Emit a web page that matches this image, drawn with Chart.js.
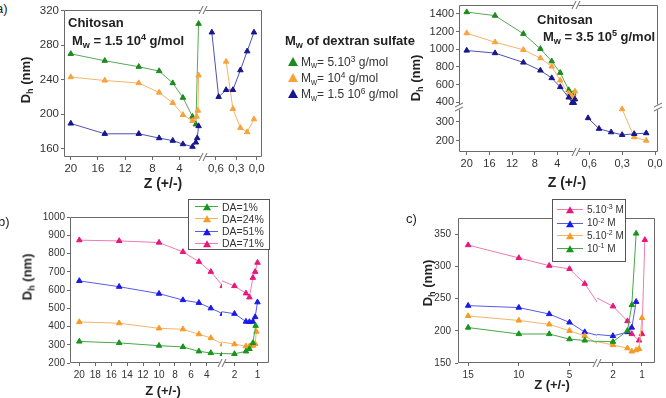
<!DOCTYPE html>
<html><head><meta charset="utf-8">
<script src="https://cdn.jsdelivr.net/npm/chart.js@4.4.1/dist/chart.umd.min.js"></script>
<style>
html,body{margin:0;padding:0;background:#fff;}
body{width:666px;height:398px;position:relative;overflow:hidden;font-family:"Liberation Sans",Arial,sans-serif;color:#222;}
canvas{position:absolute;z-index:1;}
.t{position:absolute;white-space:nowrap;z-index:3;line-height:1;}
.b{font-weight:bold;}
.v{transform:translateY(-50%);}
.c{transform:translate(-50%,-50%);}
.rot{transform:translate(-50%,-50%) rotate(-90deg);}
sub,sup{font-size:70%;line-height:0;position:relative;vertical-align:baseline;}
sub{bottom:-0.3em;} sup{top:-0.5em;}
.tri{position:absolute;width:0;height:0;border-left:4px solid transparent;border-right:4px solid transparent;border-bottom-width:7px;border-bottom-style:solid;transform:translate(-50%,-55%);z-index:4;}
.lg{position:absolute;border:1px solid #555;background:#fff;z-index:2;box-sizing:border-box;}
.ln{position:absolute;height:1px;z-index:3;}
</style></head>
<body>
<script>
// ================= DATA =================
// Panel a (left): chitosan Mw 1.5e4 — segment Z >= 1
const aLoZGreen=[20,15,10,7,5,3.5,2.1,1.6,1.2];
const aLoGreen=[270,262,255,250,236,219,197,188,305];
const aLoZOrange=[20,15,10,7,5,3.5,2.1,1.5,1.3,1.2];
const aLoOrange=[243,239,236,225,213,199,192,197,204,245];
const aLoZNavy=[20,15,10,7,5,3.5,2.1,1.6,1.4,1.2];
const aLoNavy=[189,177,177,172,169,165,162,167,172,186];
// Panel a (left): segment Z < 1
const aHiZNavy=[0.66,0.56,0.45,0.35,0.24,0.14,0.04];
const aHiNavy=[295,220,228,228,251,273,295];
const aHiZOrange=[0.45,0.35,0.24,0.14,0.04];
const aHiOrange=[261,206,184,179,194];
const aTicksX1=[20,16,12,8,4];
const aTicksX2=[0.6,0.3,0.0];
const aTicksY=[160,200,240,280,320];

// Panel a (right): chitosan Mw 3.5e5 — upper segment
const rZGreen=[20,15,10,7,5,3.5,2,1.5,1.2];
const rGreen=[1420,1380,1175,1005,865,735,540,480,500];
const rZOrange=[20,15,10,7,5,3.5,2,1.5,1.2,0.9];
const rOrange=[1182,1080,994,900,806,648,500,470,440,525];
const rZNavy=[20,15,10,7,5,3.5,2,1.4,1.1,0.9];
const rNavy=[986,957,851,761,675,574,456,395,395,435];
// lower-right segment
const rLoZNavy=[0.61,0.51,0.40,0.30,0.19,0.08];
const rLoNavy=[318,262,244,230,235,239];
const rLoZOrange=[0.30,0.19,0.08];
const rLoOrange=[365,218,200];
const rTicksYHi=[400,600,800,1000,1200,1400];
const rTicksYLo=[200,300];

// Panel b: DA series
const bZ=[20,15,10,7,5,3.5,2,1.5,1.35,1.2,1.1,1.0];
const bPink=[873,869,860,809,755,700,622,582,560,667,700,750];
const bBlue=[650,618,580,545,530,500,470,427,425,427,452,533];
const bZOrange=[20,15,10,7,5,3.5,2,1.5,1.35,1.2,1.1,1.05];
const bOrange=[425,418,390,385,358,337,303,292,292,295,305,372];
const bZGreen=[20,15,10,7,5,3.5,2,1.5,1.35,1.2,1.08];
const bGreen=[318,310,295,288,264,255,250,264,277,310,404];
const bTicksX1=[20,18,16,14,12,10,8,6,4];
const bTicksX2=[2,1];
const bTicksY=[200,300,400,500,600,700,800,900,1000];
const bNames=['DA=1%','DA=24%','DA=51%','DA=71%'];

// Panel c: ionic strength series
const cZPink=[15,10,7,5,3.5,2,1.5,1.35,1.1,1.0,0.9];
const cPink=[333,313,301,296,273,238,215,195,185,195,341];
const cZBlue=[15,10,7,5,3.5,2,1.5,1.35,1.2];
const cBlue=[239,236,226,213,198,192,198,205,245];
const cZOrange=[15,10,7,5,3.5,2,1.5,1.35,1.2,1.1,1.0];
const cOrange=[223,216,210,200,192,178,173,168,170,172,220];
const cZGreen=[15,10,7,5,3.5,2,1.5,1.35,1.2];
const cGreen=[205,195,195,187,185,183,200,240,351];
const cTicksX1=[15,10,5];
const cTicksX2=[2,1];
const cTicksY=[150,200,250,300,350];
const cNames=['5.10<sup>-3</sup> M','10<sup>-2</sup> M','5.10<sup>-2</sup> M','10<sup>-1</sup> M'];

// ================= STYLE =================
const FONT='"Liberation Sans", Arial, sans-serif';
const COL={
  aGreen:{m:'#1e8a1e',l:'#5aa85a'}, aOrange:{m:'#f7a33c',l:'#f6b466'}, aNavy:{m:'#17178c',l:'#5050b4'},
  green:{m:'#16961a',l:'#45a845'}, orange:{m:'#f79a26',l:'#f4b468'}, blue:{m:'#1a1ae6',l:'#5a5ae6'}, pink:{m:'#e8177d',l:'#f07ab0'}
};
const PAD=8, YW=40, XH=22;
const comma=v=>v.toFixed(1).replace('.',',');

const framePlugin={id:'frameBox',afterDraw(chart,args,o){
  const a=chart.chartArea, ctx=chart.ctx;
  const L=Math.round(a.left)+0.5, R=Math.round(a.right)-0.5, T=Math.round(a.top)+0.5, B=Math.round(a.bottom)-0.5;
  const s=o.sides||'', br=o.brk||'', g=2;
  ctx.save(); ctx.strokeStyle='#6a6a6a'; ctx.lineWidth=1; ctx.beginPath();
  const x0=L+(br.includes('l')?g:0), x1=R-(br.includes('r')?g:0);
  const y0=T+(br.includes('t')?g:0), y1=B-(br.includes('b')?g:0);
  if(s.includes('t')){ctx.moveTo(x0,T);ctx.lineTo(x1,T);}
  if(s.includes('b')){ctx.moveTo(x0,B);ctx.lineTo(x1,B);}
  if(s.includes('l')){ctx.moveTo(L,y0);ctx.lineTo(L,y1);}
  if(s.includes('r')){ctx.moveTo(R,y0);ctx.lineTo(R,y1);}
  ctx.stroke();
  ctx.beginPath();
  (o.marks||[]).forEach(([xs,ys,ori])=>{
    const x=xs==='l'?a.left:a.right, y=ys==='t'?a.top:a.bottom;
    for(const d of [-2,2]){
      if(ori==='v'){ctx.moveTo(x+d-2,y+4);ctx.lineTo(x+d+2,y-4);}
      else{ctx.moveTo(x-4,y+d+2);ctx.lineTo(x+4,y+d-2);}
    }
  });
  ctx.stroke(); ctx.restore();
}};

function series(zs,vals,c,clip){
  return {data:zs.map((z,i)=>({x:z,y:vals[i]})),showLine:true,borderColor:c.l,borderWidth:1,
    pointStyle:'triangle',pointRadius:3.2,pointBackgroundColor:c.m,pointBorderColor:c.m,pointBorderWidth:1,
    pointHoverRadius:3.2,clip:clip===undefined?0:clip};
}

function axis(a,isX){
  const has=!!(a.ticks&&a.ticks.length);
  return {type:'linear',min:a.min,max:a.max,reverse:isX,position:isX?'bottom':'left',
    afterFit:s=>{ if(isX) s.height=XH; else s.width=YW; s.paddingLeft=0;s.paddingRight=0;s.paddingTop=0;s.paddingBottom=0; },
    afterBuildTicks:s=>{ s.ticks=(a.ticks||[]).map(v=>({value:v})); },
    ticks:{display:has,autoSkip:false,maxRotation:0,minRotation:0,padding:a.pad||2,color:'#333',
      font:{size:a.size||11,family:FONT},callback:a.fmt||(v=>String(v))},
    grid:{display:has,drawOnChartArea:false,drawTicks:true,tickLength:a.tl||3,tickColor:'#6a6a6a'},
    border:{display:false}};
}

function seg(f){
  const [l,t,r,b]=f.frame;
  const cv=document.createElement('canvas');
  const W=r-l+YW+2*PAD, H=b-t+XH+2*PAD;
  cv.width=W; cv.height=H;
  cv.style.left=(l-YW-PAD)+'px'; cv.style.top=(t-PAD)+'px';
  cv.style.width=W+'px'; cv.style.height=H+'px';
  document.body.appendChild(cv);
  new Chart(cv,{type:'scatter',data:{datasets:f.sets||[]},
    options:{responsive:false,animation:false,devicePixelRatio:1,
      layout:{padding:PAD,autoPadding:false},
      plugins:{legend:{display:false},tooltip:{enabled:false},frameBox:f.box},
      scales:{x:axis(f.x,true),y:axis(f.y,false)}},
    plugins:[framePlugin]});
}

// ---------- Panel a, left ----------
const aYl={min:150,max:321,ticks:aTicksY,size:11.5};
seg({frame:[64,10,203,157],x:{min:0.55,max:21,ticks:aTicksX1,size:11.5},y:aYl,
  box:{sides:'tlb',brk:'r',marks:[['r','t','v'],['r','b','v']]},
  sets:[series(aLoZNavy,aLoNavy,COL.aNavy),series(aLoZOrange,aLoOrange,COL.aOrange),series(aLoZGreen,aLoGreen,COL.aGreen)]});
seg({frame:[203,10,262,157],x:{min:-0.078,max:0.79,ticks:aTicksX2,fmt:comma,size:11.5},y:{min:150,max:321},
  box:{sides:'trb',brk:'l'},
  sets:[series(aHiZNavy,aHiNavy,COL.aNavy),series(aHiZOrange,aHiOrange,COL.aOrange)]});

// ---------- Panel a, right ----------
const rXl={min:0.72,max:21.36}, rXr={min:-0.027,max:0.72};
const cl5={left:0,top:0,right:5,bottom:5};
seg({frame:[459,5,576,107],x:rXl,y:{min:348,max:1500,ticks:rTicksYHi,size:11},
  box:{sides:'tl',brk:'rb',marks:[['r','t','v'],['l','b','h']]},
  sets:[series(rZNavy,rNavy,COL.aNavy,cl5),series(rZOrange,rOrange,COL.aOrange,cl5),series(rZGreen,rGreen,COL.aGreen,cl5)]});
seg({frame:[459,107,576,152],x:Object.assign({ticks:aTicksX1,size:11},rXl),y:{min:140,max:376,ticks:rTicksYLo,size:11},
  box:{sides:'lb',brk:'rt',marks:[['r','b','v']]}});
seg({frame:[576,5,658,107],x:rXr,y:{min:348,max:1500},
  box:{sides:'tr',brk:'lb',marks:[['r','b','h']]}});
const clT={left:0,top:5,right:0,bottom:0};
seg({frame:[576,107,658,152],x:Object.assign({ticks:aTicksX2,fmt:comma,size:11},rXr),y:{min:140,max:376},
  box:{sides:'rb',brk:'lt'},
  sets:[series(rLoZNavy,rLoNavy,COL.aNavy,clT),series(rLoZOrange,rLoOrange,COL.aOrange,clT)]});

// ---------- Panel b ----------
const bSets=()=>[series(bZGreen,bGreen,COL.green),series(bZOrange,bOrange,COL.orange),series(bZ,bBlue,COL.blue),series(bZ,bPink,COL.pink)];
const bY={min:200,max:1000,ticks:bTicksY,size:10};
seg({frame:[70,217,222,363],x:{min:2.1,max:21.17,ticks:bTicksX1,size:10,pad:3},y:bY,
  box:{sides:'tlb',brk:'r',marks:[['r','b','v']]},sets:bSets()});
seg({frame:[222,217,269,363],x:{min:0.5,max:2.54,ticks:bTicksX2,size:10,pad:3},y:{min:200,max:1000},
  box:{sides:'trb',brk:'l'},sets:bSets()});

// ---------- Panel c ----------
const cSets=()=>[series(cZGreen,cGreen,COL.green),series(cZOrange,cOrange,COL.orange),series(cZBlue,cBlue,COL.blue),series(cZPink,cPink,COL.pink)];
seg({frame:[458,218,597,363],x:{min:2.29,max:16,ticks:cTicksX1,size:10,pad:3},y:{min:150,max:375,ticks:cTicksY,size:10,pad:4},
  box:{sides:'tlb',brk:'r',marks:[['r','b','v']]},sets:cSets()});
seg({frame:[597,218,655,363],x:{min:0.55,max:2.55,ticks:cTicksX2,size:10,pad:3},y:{min:150,max:375},
  box:{sides:'trb',brk:'l'},sets:cSets()});

// ================= TEXT & LEGENDS =================
function txt(html,x,y,cls,style){
  const d=document.createElement('div'); d.className='t '+(cls||''); d.innerHTML=html;
  d.style.left=x+'px'; d.style.top=y+'px'; if(style) d.style.cssText+=style;
  document.body.appendChild(d); return d;
}
const DH='D<sub>h</sub> (nm)', ZT='Z (+/-)';
txt('a)',-4,2,'','font-size:13px;');
txt('b)',-2,215,'','font-size:13px;');
txt('c)',406,212,'','font-size:13px;');
// annotations
txt('Chitosan',68,22,'b v','font-size:13px;');
txt('M<sub>w</sub> = 1.5 10<sup>4</sup> g/mol',72,40,'b v','font-size:13px;');
txt('Chitosan',537,19,'b v','font-size:13px;');
txt('M<sub>w</sub> = 3.5 10<sup>5</sup> g/mol',543,36,'b v','font-size:13px;');
// axis titles
txt(DH,25,80,'b rot','font-size:13px;');
txt(ZT,163,183,'b c','font-size:14px;');
txt(DH,415,78,'b rot','font-size:13px;');
txt(ZT,567,182,'b c','font-size:14px;');
txt(DH,27,277,'b rot','font-size:13px;');
txt(ZT,163,390,'b c','font-size:13px;');
txt(DH,427,283,'b rot','font-size:13px;');
txt(ZT,552,384,'b c','font-size:13px;');

// legend a
const aNames=['M<sub>w</sub>= 5.10<sup>3</sup> g/mol','M<sub>w</sub>= 10<sup>4</sup> g/mol','M<sub>w</sub>= 1.5 10<sup>6</sup> g/mol'];
const aCols=[COL.aGreen,COL.aOrange,COL.aNavy];
txt('M<sub>w</sub> of dextran sulfate',285,40,'b v','font-size:13px;');
[61.7,78.3,94.3].forEach((y,i)=>{
  const tr=document.createElement('div'); tr.className='tri';
  tr.style.cssText+='left:293px;top:'+y+'px;border-bottom-color:'+aCols[i].m+';border-left-width:5px;border-right-width:5px;border-bottom-width:9px;';
  document.body.appendChild(tr);
  txt(aNames[i],301,y,'v','font-size:12px;color:#333;');
});

function boxLegend(box,names,cols,ys,lx0,lx1,tx,fs){
  const d=document.createElement('div'); d.className='lg';
  d.style.cssText+='left:'+box[0]+'px;top:'+box[1]+'px;width:'+box[2]+'px;height:'+box[3]+'px;';
  document.body.appendChild(d);
  ys.forEach((y,i)=>{
    const ln=document.createElement('div'); ln.className='ln';
    ln.style.cssText+='left:'+lx0+'px;width:'+(lx1-lx0)+'px;top:'+Math.round(y)+'px;background:'+cols[i].l+';';
    document.body.appendChild(ln);
    const tr=document.createElement('div'); tr.className='tri';
    tr.style.cssText+='left:'+((lx0+lx1)/2)+'px;top:'+(Math.round(y)+0.5)+'px;border-bottom-color:'+cols[i].m+';';
    document.body.appendChild(tr);
    txt(names[i],tx,y+0.5,'v','font-size:'+fs+'px;color:#333;');
  });
}
boxLegend([188,199,82,51],bNames,[COL.green,COL.orange,COL.blue,COL.pink],[206,218.3,230.7,242.7],195,218,222,10.5);
boxLegend([552,199,74,63],cNames,[COL.pink,COL.blue,COL.orange,COL.green],[209.3,222.7,235,248.3],557,583,587,10);
</script>
</body></html>
